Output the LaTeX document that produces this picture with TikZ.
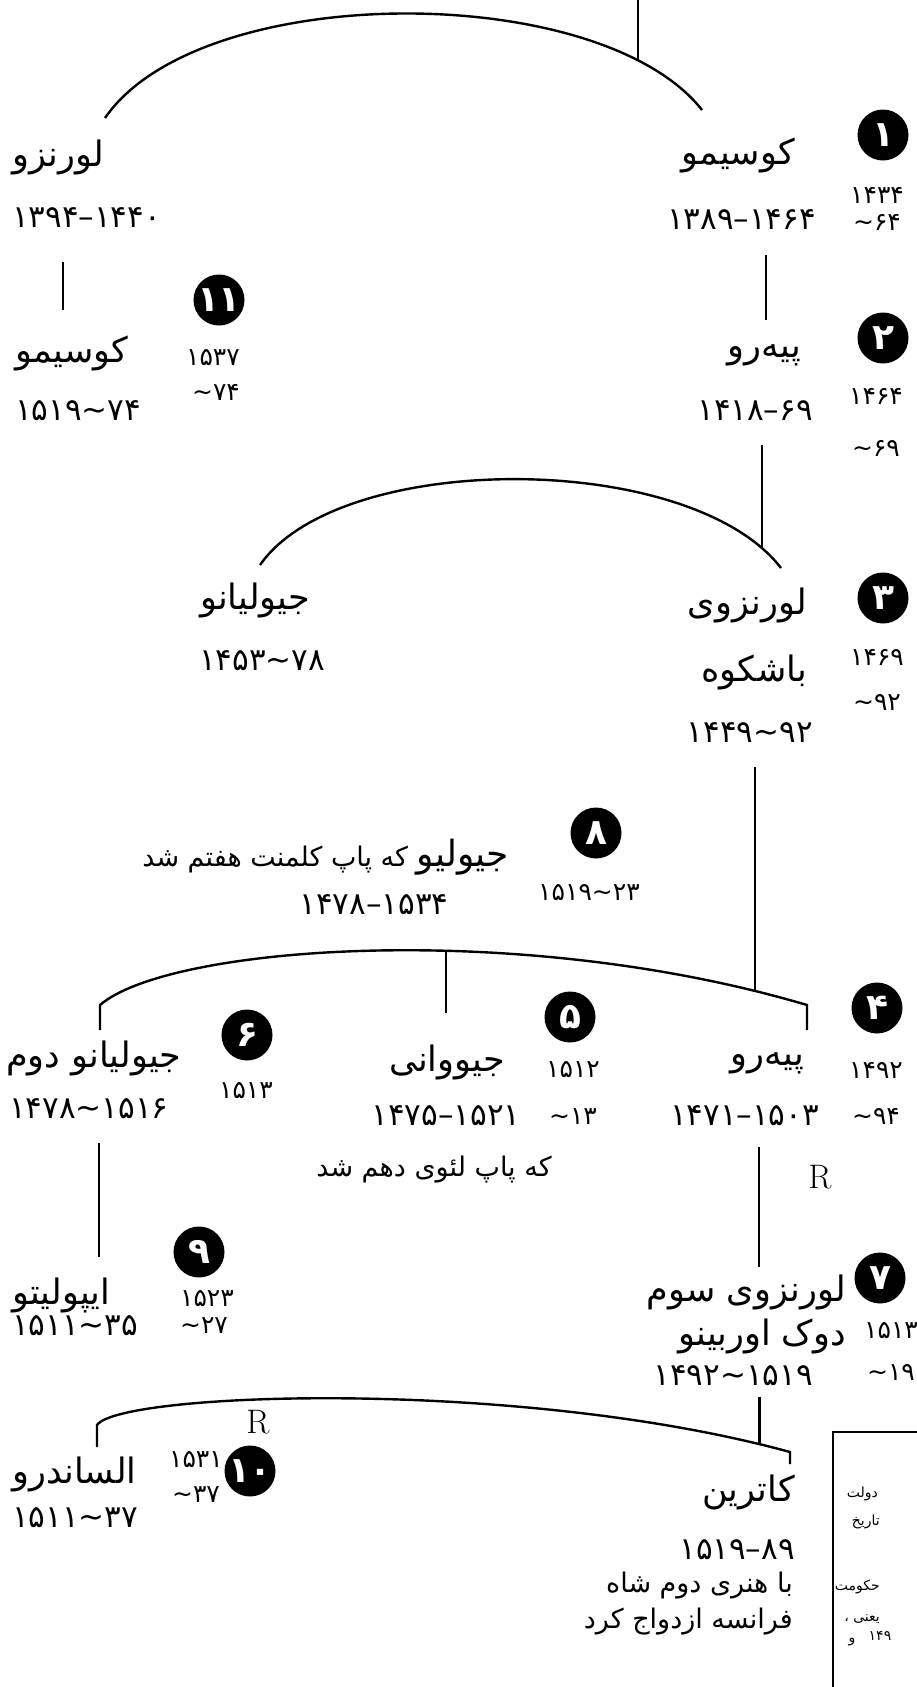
\documentclass[tikz,border=0pt]{standalone}
\usepackage{fontspec}
\newfontfamily\persianfont[Script=Arabic]{DejaVu Sans}
\TeXXeTstate=1
\newcommand\rtl[1]{{\persianfont\beginR #1\endR}}
\newcommand\yr[1]{{\persianfont #1}}
\newcommand\yrs[3]{{\persianfont #1\kern0pt #2\kern0pt #3}}
\newcommand\tld{\textasciitilde}
\tikzset{
	person/.style={inner sep=0pt, font=\fontsize{35}{38}\selectfont},
	years/.style={inner sep=0pt, font=\fontsize{31}{34}\selectfont},
	reign/.style={inner sep=0pt, font=\fontsize{25}{28}\selectfont},
	remark/.style={inner sep=0pt, font=\fontsize{27}{30}\selectfont},
	sidenote/.style={inner sep=0pt, font=\fontsize{14}{16}\selectfont},
	rmark/.style={inner sep=0pt, font=\fontsize{34}{36}\selectfont},
	badge/.style={circle, fill=black, text=white, minimum size=51pt, inner sep=0pt, font=\bfseries\fontsize{36}{38}\selectfont},
	kin/.style={line width=2.4pt},
	frameline/.style={line width=1.3pt}
}
\begin{document}
\begin{tikzpicture}[x=1pt,y=-1pt]
	\useasboundingbox (0,0) rectangle (917,1687);
	\node[person, anchor=west] (lor1) at (12,157) {\rtl{لورنزو}};
	\node[years, anchor=west] (lor1d) at (12,218) {\yrs{۱۳۹۴}{–}{۱۴۴۰}};
	\node[person, anchor=east] (cos1) at (795,155) {\rtl{کوسیمو}};
	\node[years, anchor=east] (cos1d) at (816,220) {\yrs{۱۳۸۹}{–}{۱۴۶۴}};
	\node[badge] (b1) at (883,135) {\yr{۱}};
	\node[reign] (r1a) at (877,195) {\yr{۱۴۳۴}};
	\node[reign] (r1b) at (877,222) {\yrs{}{\tld}{۶۴}};
	\coordinate (a1l) at (105,118);
	\coordinate (a1r) at (702,110);
	\draw[kin] (a1l) .. controls (200,-20) and (600,-20) .. (a1r) coordinate[pos=0.85] (j1);
	\coordinate (top) at (j1 |- 0,0);
	\draw[kin] (top) -- (j1);
	\coordinate (l1a) at (63,262);
	\coordinate (l1b) at (63,310);
	\draw[kin] (l1a) -- (l1b);
	\coordinate (c1a) at (766,255);
	\coordinate (c1b) at (766,320);
	\draw[kin] (c1a) -- (c1b);

	\node[person, anchor=west] (cos2) at (15,353) {\rtl{کوسیمو}};
	\node[years, anchor=west] (cos2d) at (15,411) {\yrs{۱۵۱۹}{\tld}{۷۴}};
	\node[badge] (b11) at (219,300) {\yr{۱۱}};
	\node[reign] (r11a) at (213,358) {\yr{۱۵۳۷}};
	\node[reign] (r11b) at (216,392) {\yrs{}{\tld}{۷۴}};
	\node[person, anchor=east] (pie1) at (801,355) {\rtl{پیه‌رو}};
	\node[years, anchor=east] (pie1d) at (813,411) {\yrs{۱۴۱۸}{–}{۶۹}};
	\node[badge] (b2) at (883,338) {\yr{۲}};
	\node[reign] (r2a) at (876,396) {\yr{۱۴۶۴}};
	\node[reign] (r2b) at (876,448) {\yrs{}{\tld}{۶۹}};
	\coordinate (a2l) at (260,565);
	\coordinate (a2r) at (781,568);
	\draw[kin] (a2l) .. controls (340,450) and (690,450) .. (a2r) coordinate[pos=0.94] (j2);
	\coordinate (p1a) at (j2 |- 0,445);
	\draw[kin] (p1a) -- (j2);

	\node[person] (giu1) at (255,600) {\rtl{جیولیانو}};
	\node[years] (giu1d) at (262,661) {\yrs{۱۴۵۳}{\tld}{۷۸}};
	\node[person, anchor=east] (lor2) at (807,605) {\rtl{لورنزوی}};
	\node[person, anchor=east] (lor2b) at (807,672) {\rtl{باشکوه}};
	\node[years, anchor=east] (lor2d) at (813,733) {\yrs{۱۴۴۹}{\tld}{۹۲}};
	\node[badge] (b3) at (883,598) {\yr{۳}};
	\node[reign] (r3a) at (877,657) {\yr{۱۴۶۹}};
	\node[reign] (r3b) at (877,702) {\yrs{}{\tld}{۹۲}};

	\node[badge] (b8) at (596,833) {\yr{۸}};
	\node[remark, anchor=east] (giulio) at (509,857) {\rtl{{\fontsize{36}{40}\selectfont جیولیو} که پاپ کلمنت هفتم شد}};
	\node[years] (giuliod) at (374,905) {\yrs{۱۴۷۸}{–}{۱۵۳۴}};
	\node[reign] (r8) at (589,893) {\yrs{۱۵۱۹}{\tld}{۲۳}};

	\coordinate (g2t) at (100,1030);
	\coordinate (a3l) at (100,1005);
	\coordinate (a3r) at (807,1005);
	\coordinate (p2t) at (807,1030);
	\draw[kin] (g2t) -- (a3l) .. controls (170,945) and (520,920) .. (a3r) coordinate[pos=0.59] (j3a) coordinate[pos=0.94] (j3b) -- (p2t);
	\coordinate (gioa) at (j3a |- 0,1013);
	\draw[kin] (j3a) -- (gioa);
	\coordinate (lor2a) at (j3b |- 0,767);
	\draw[kin] (lor2a) -- (j3b);

	\node[person, anchor=west] (giu2) at (6,1058) {\rtl{جیولیانو دوم}};
	\node[years, anchor=west] (giu2d) at (9,1109) {\yrs{۱۴۷۸}{\tld}{۱۵۱۶}};
	\node[badge] (b6) at (247,1035) {\yr{۶}};
	\node[reign] (r6) at (246,1091) {\yr{۱۵۱۳}};
	\node[person] (gio) at (447,1062) {\rtl{جیووانی}};
	\node[years] (giod) at (446,1116) {\yrs{۱۴۷۵}{–}{۱۵۲۱}};
	\node[badge] (b5) at (570,1017) {\yr{۵}};
	\node[reign] (r5a) at (573,1070) {\yr{۱۵۱۲}};
	\node[reign] (r5b) at (573,1117) {\yrs{}{\tld}{۱۳}};
	\node[remark] (leo) at (434,1170) {\rtl{که پاپ لئوی دهم شد}};
	\node[person, anchor=east] (pie2) at (804,1063) {\rtl{پیه‌رو}};
	\node[years, anchor=east] (pie2d) at (819,1116) {\yrs{۱۴۷۱}{–}{۱۵۰۳}};
	\node[badge] (b4) at (877,1008) {\yr{۴}};
	\node[reign] (r4a) at (876,1070) {\yr{۱۴۹۲}};
	\node[reign] (r4b) at (876,1116) {\yrs{}{\tld}{۹۴}};
	\node[rmark] (rm1) at (820,1177) {R};
	\coordinate (g2a) at (99,1143);
	\coordinate (g2b) at (99,1257);
	\draw[kin] (g2a) -- (g2b);
	\coordinate (p2a) at (759,1147);
	\coordinate (p2b) at (759,1267);
	\draw[kin] (p2a) -- (p2b);

	\node[person, anchor=west] (ipp) at (12,1295) {\rtl{ایپولیتو}};
	\node[years, anchor=west] (ippd) at (12,1326) {\yrs{۱۵۱۱}{\tld}{۳۵}};
	\node[badge] (b9) at (199,1252) {\yr{۹}};
	\node[reign] (r9a) at (207,1299) {\yr{۱۵۲۳}};
	\node[reign] (r9b) at (204,1326) {\yrs{}{\tld}{۲۷}};
	\node[person, anchor=east] (lor3) at (846,1292) {\rtl{لورنزوی سوم}};
	\node[person, anchor=east] (lor3b) at (846,1336) {\rtl{دوک اوربینو}};
	\node[years, anchor=east] (lor3d) at (813,1376) {\yrs{۱۴۹۲}{\tld}{۱۵۱۹}};
	\node[badge] (b7) at (880,1278) {\yr{۷}};
	\node[reign] (r7a) at (891,1331) {\yr{۱۵۱۳}};
	\node[reign] (r7b) at (891,1372) {\yrs{}{\tld}{۱۹}};

	\coordinate (a4t) at (97,1447);
	\coordinate (a4l) at (97,1425);
	\coordinate (a4r) at (790,1452);
	\coordinate (a4rt) at (790,1464);
	\draw[kin] (a4t) -- (a4l) .. controls (120,1392) and (520,1378) .. (a4r) coordinate[pos=0.963] (j4) -- (a4rt);
	\coordinate (lor3a) at (j4 |- 0,1397);
	\draw[kin] (lor3a) -- (j4);
	\node[rmark] (rm2) at (258,1422) {R};

	\node[person, anchor=west] (ale) at (12,1474) {\rtl{الساندرو}};
	\node[years, anchor=west] (aled) at (12,1518) {\yrs{۱۵۱۱}{\tld}{۳۷}};
	\node[badge] (b10) at (250,1471) {\yr{۱۰}};
	\node[reign] (r10a) at (196,1460) {\yr{۱۵۳۱}};
	\node[reign] (r10b) at (196,1495) {\yrs{}{\tld}{۳۷}};
	\node[person, anchor=east] (cat) at (795,1492) {\rtl{کاترین}};
	\node[years, anchor=east] (catd) at (795,1550) {\yrs{۱۵۱۹}{–}{۸۹}};
	\node[remark, anchor=east] (cat1) at (793,1586) {\rtl{با هنری دوم شاه}};
	\node[remark, anchor=east] (cat2) at (793,1622) {\rtl{فرانسه ازدواج کرد}};

	\coordinate (fb) at (833,1687);
	\coordinate (fc) at (833,1432);
	\coordinate (fr) at (917,1432);
	\draw[frameline] (fb) -- (fc) -- (fr);
	\node[sidenote, anchor=east] (s1) at (878,1494) {\rtl{دولت}};
	\node[sidenote, anchor=east] (s2) at (880,1522) {\rtl{تاریخ}};
	\node[sidenote, anchor=east] (s3) at (880,1587) {\rtl{حکومت}};
	\node[sidenote, anchor=east] (s4) at (880,1619) {\rtl{یعنی ،}};
	\node[sidenote] (s5) at (852,1642) {\rtl{و}};
	\node[sidenote] (s6) at (880,1636) {\yr{۱۴۹}};
\end{tikzpicture}
\end{document}
